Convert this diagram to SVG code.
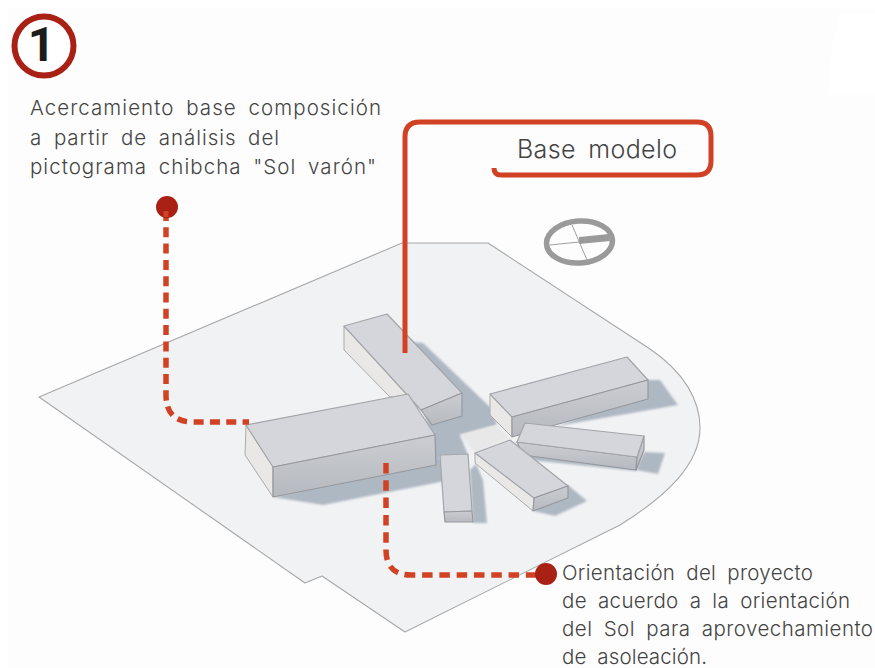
<svg xmlns="http://www.w3.org/2000/svg" width="875" height="668" viewBox="0 0 875 668">
<style>
.t{font-family:"Inter","Lato","Liberation Sans",sans-serif;font-weight:300;fill:#444444}
.n{font-size:20.5px;word-spacing:5px}
.top{fill:#d4d6db;stroke:#a3a5a9;stroke-width:1.2;stroke-linejoin:round}
.fr{fill:url(#fg);stroke:#96989c;stroke-width:1.2;stroke-linejoin:round}
.sd{fill:#e9e8e7;stroke:#aaaaaa;stroke-width:1;stroke-linejoin:round}
.sh{fill:#aeb8c3;filter:url(#b)}
.dot{fill:none;stroke:#d14124;stroke-width:5.500;stroke-dasharray:10 6.300}
.red{fill:#a82114}
</style>
<defs>
<filter id="b" x="-10%" y="-10%" width="120%" height="120%"><feGaussianBlur stdDeviation="0.8"/></filter>
<filter id="s" x="-5%" y="-5%" width="110%" height="110%"><feGaussianBlur stdDeviation="0.45"/></filter>
<linearGradient id="fg" x1="0" y1="0" x2="0" y2="1"><stop offset="0" stop-color="#cbcdd2"/><stop offset="1" stop-color="#b6b9bf"/></linearGradient>
</defs>
<rect width="875" height="668" fill="#ffffff"/>
<rect x="7" y="8" width="868" height="660" fill="#fdfdfd"/>
<path d="M840 14H875V95H828Q830 50 840 14Z" fill="#ffffff"/>
<g id="site">
<path d="M39 397L402 243H488L650 349C684 372 700 400 700 428C700 465 665 497 620 525L405 632L322 576L305 583Z" fill="#f1f2f4" stroke="#a8a8a8" stroke-width="1.100" stroke-linejoin="round"/>
</g>
<g id="shadows">
<path class="sh" d="M412 342L423 343L491 408L497 425L460 435L468 455L440 456L437 470L430 440Z"/>
<path class="sh" d="M273 497L323 505L440 482L470 472L437 458Z"/>
<path class="sh" d="M648 380L660 380L678 405L557 426L640 395Z"/>
<path class="sh" d="M644 452L665 453L658 474L636 470Z"/>
<path class="sh" d="M520 448L640 460L636 471L530 460Z"/>
<path class="sh" d="M568 485L587 501L555 516L533 511Z"/>
<path class="sh" d="M470 470L476 464L483 480L487 523L473 523Z"/>
<path d="M460 435L497 425L510 438L475 453Z" fill="#e8e8e8" filter="url(#b)"/>
</g>
<g id="buildings" filter="url(#s)">
<g id="building-a">
<path class="sd" d="M344 326L344 350L390 397L410 395L421 410Z"/>
<path class="top" d="M344 326L387 314L462 393L421 410Z"/>
<path class="fr" d="M421 410L462 393L462 416L432 425Z"/>
</g>
<g id="building-b">
<path class="sd" d="M246 425L245 455L273 497L273 467Z"/>
<path class="top" d="M246 425L408 394L435 435L273 467Z"/>
<path class="fr" d="M273 467L435 435L436 465L273 497Z"/>
</g>
<g id="building-c">
<path class="sd" d="M490 394L490 415L512 437L512 417Z"/>
<path class="top" d="M490 394L627 357L648 380L512 417Z"/>
<path class="fr" d="M512 417L648 380L648 399L512 437Z"/>
</g>
<g id="building-d">
<path class="fr" d="M517 442L637 457L636 470L523 455Z"/>
<path class="fr" d="M644 436L644 450L636 470L637 457Z"/>
<path class="top" d="M525 423L644 436L637 457L517 442Z"/>
</g>
<g id="building-e">
<path class="sd" d="M475 453L475 463L533 511L534 498Z"/>
<path class="top" d="M510 440L568 486L534 498L475 453Z"/>
<path class="fr" d="M534 498L568 486L568 498L533 511Z"/>
</g>
<g id="building-f">
<path class="top" d="M440 455L468 454L472 511L444 512Z"/>
<path class="fr" d="M444 512L472 511L473 522L445 522Z"/>
</g>
</g>
<g id="compass">
<ellipse cx="579.500" cy="242" rx="33" ry="21" transform="rotate(-4 579.500 242)" fill="none" stroke="#9a9a9a" stroke-width="5.500"/>
<path d="M550 245L579 242M572 225L587 260" fill="none" stroke="#a0a0a0" stroke-width="1"/>
<path d="M579 237L609 234L610 241L579 244Z" fill="#9a9a9a"/>
</g>
<g id="connectors">
<path d="M405 353V137Q405 122 420 122H697Q711 122 711 136V161Q711 175 697 175H501Q494 175 494 168" fill="none" stroke="#d14124" stroke-width="5"/>
<path class="dot" d="M166 211V395Q166 422 193 422H249"/>
<path class="dot" style="stroke-dasharray:10.500 6.800" d="M386 463V550Q386 575 411 575H536"/>
</g>
<g id="badge">
<circle cx="44" cy="46" r="29.500" fill="#ffffff" stroke="#a82114" stroke-width="6"/>
<text x="41.500" y="61" text-anchor="middle" font-family="Roboto, sans-serif" font-weight="700" font-size="48" fill="#1c1c1c">1</text>
</g>
<g id="note-1">
<text class="t n" x="30" y="115" textLength="351" lengthAdjust="spacing">Acercamiento base composición</text>
<text class="t n" x="30" y="145" textLength="249" lengthAdjust="spacing">a partir de análisis del</text>
<text class="t n" x="30" y="174" textLength="346" lengthAdjust="spacing">pictograma chibcha "Sol varón"</text>
<circle class="red" cx="167" cy="207" r="11"/>
<rect x="163.500" y="211" width="5" height="6" fill="#d14124"/>
</g>
<g id="label-base">
<text class="t" x="517" y="158" font-size="25" word-spacing="5" textLength="160" lengthAdjust="spacing">Base modelo</text>
</g>
<g id="note-2">
<circle class="red" cx="546" cy="574" r="11"/>
<text class="t n" x="562" y="580" textLength="251" lengthAdjust="spacing">Orientación del proyecto</text>
<text class="t n" x="562" y="608" textLength="288" lengthAdjust="spacing">de acuerdo a la orientación</text>
<text class="t n" x="562" y="636" textLength="311" lengthAdjust="spacing">del Sol para aprovechamiento</text>
<text class="t n" x="562" y="664" textLength="145" lengthAdjust="spacing">de asoleación.</text>
</g>
</svg>
